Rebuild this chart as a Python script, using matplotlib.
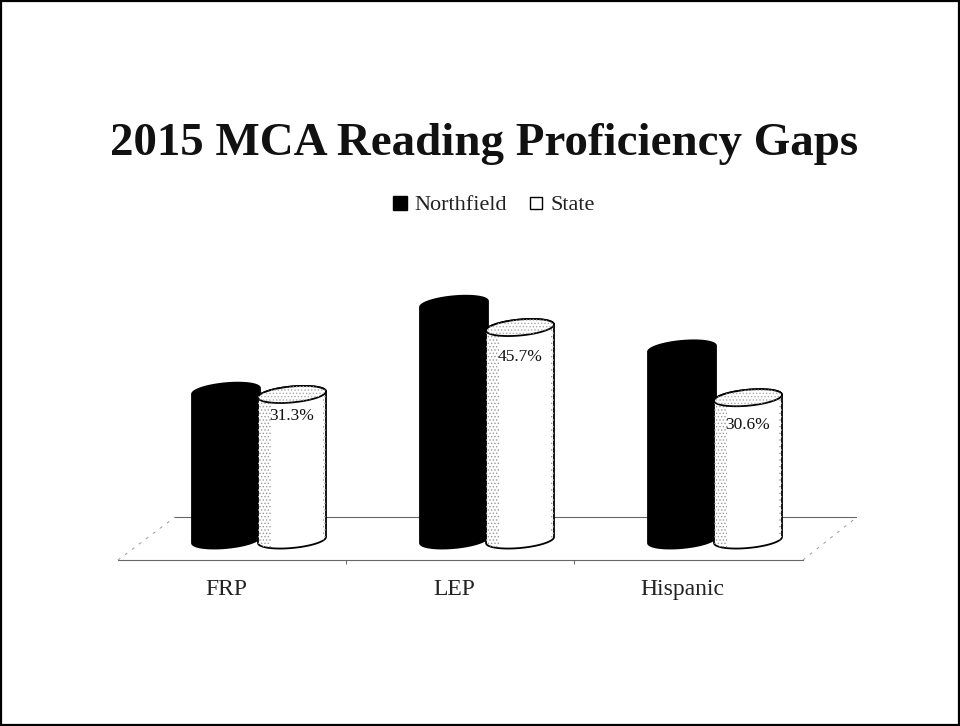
import numpy as np
import matplotlib
matplotlib.use("Agg")
import matplotlib.pyplot as plt
from matplotlib.patches import Polygon, Rectangle

title = "2015 MCA Reading Proficiency Gaps"
categories = ["FRP", "LEP", "Hispanic"]
state = [31.3, 45.7, 30.6]
northfield = [32.0, 50.7, 41.1]  # no labels in the original
state_labels = ["31.3%", "45.7%", "30.6%"]
label_drop = [22, 30, 27]

W, H = 960, 726
PX_X = 228.0   # pixels per category
PX_Y = 4.65    # pixels per percent
AX_L, AX_R, AX_B, AX_T = 118, 857, 560, 100
ZERO_X, ZERO_Y = 226, 540
OFFSET = 66 / PX_X
A = 34 / PX_X   # half width of a cylinder
B = 8 / PX_Y    # half height of the ellipse
TILT = 3 / PX_Y

plt.rcParams['font.family'] = ['Liberation Serif', 'DejaVu Serif']
plt.rcParams['hatch.linewidth'] = 0.6


def ring(xc, y0, start, stop):
    t = np.linspace(start, stop, 60)
    return np.column_stack([xc + A * np.cos(t),
                            y0 + B * np.sin(t) + TILT * np.cos(t)])


def cylinder(ax, xc, val, face, z):
    pts = np.vstack([ring(xc, 0, np.pi, 2 * np.pi), ring(xc, val, 0, np.pi)])
    body = Polygon(pts, closed=True, fc=face, ec='black', lw=1.3, zorder=z)
    ax.add_patch(body)
    if face == 'black':
        return
    # grainy shading, left side and right edge of the white cylinders
    for x0, w in [(xc - A, 0.055), (xc + A - 0.014, 0.014)]:
        band = Rectangle((x0, -10), w, val + 20, fc='none', ec='#999999',
                         hatch='.....', lw=0, zorder=z + 0.1)
        ax.add_patch(band)
        band.set_clip_path(body)
    top = Polygon(ring(xc, val, 0, 2 * np.pi), closed=True, fc='white',
                  ec='black', lw=1.3, zorder=z + 0.2)
    ax.add_patch(top)
    grain = Polygon(ring(xc, val, 0, 2 * np.pi), closed=True, fc='none',
                    ec='#aaaaaa', hatch='.....', lw=0, zorder=z + 0.3)
    ax.add_patch(grain)


fig = plt.figure(figsize=(W / 100, H / 100), dpi=100, facecolor='white')
ax = fig.add_axes([AX_L / W, 1 - AX_B / H, (AX_R - AX_L) / W, (AX_B - AX_T) / H])
ax.set_xlim((AX_L - ZERO_X) / PX_X, (AX_R - ZERO_X) / PX_X)
ax.set_ylim((ZERO_Y - AX_B) / PX_Y, (ZERO_Y - AX_T) / PX_Y)
ax.patch.set_visible(False)
for s in ax.spines.values():
    s.set_visible(False)
ax.set_yticks([])
x = np.arange(len(categories))
ax.set_xticks(x)
ax.set_xticklabels(categories, fontsize=17, color='#222222')
ax.tick_params(axis='x', length=0, pad=14)
ax.set_xticks([0.526, 1.526], minor=True)
ax.tick_params(axis='x', which='minor', length=3, width=0.7, color='#666666')

# floor of the 3d chart
y_front, y_back = ax.get_ylim()[0], 23 / PX_Y
x_fl, x_fr = ax.get_xlim()[0], (803 - ZERO_X) / PX_X
x_bl, x_br = (175 - ZERO_X) / PX_X, ax.get_xlim()[1]
ax.plot([x_fl, x_fr], [y_front, y_front], color='#666666', lw=0.8, zorder=1, clip_on=False)
ax.plot([x_bl, x_br], [y_back, y_back], color='#666666', lw=0.8, zorder=1)
ax.plot([x_fl, x_bl], [y_front, y_back], color='#999999', lw=0.7, ls=(0, (3, 6)), zorder=1, clip_on=False)
ax.plot([x_fr, x_br], [y_front, y_back], color='#999999', lw=0.7, ls=(0, (3, 6)), zorder=1, clip_on=False)

for i in x:
    cylinder(ax, i, northfield[i], 'black', 3)
for i in x:
    cylinder(ax, i + OFFSET, state[i], 'white', 4)
    ax.text(i + OFFSET, state[i] - label_drop[i] / PX_Y, state_labels[i], ha='center', va='center',
            fontsize=12.5, color='#111111', zorder=6)

fig.text(484 / W, 1 - 144 / H, title, ha='center', va='center',
         fontsize=33.8, fontweight='bold', color='#111111')

h1 = plt.Line2D([], [], marker='s', ms=10, mfc='black', mec='black', ls='none')
h2 = plt.Line2D([], [], marker='s', ms=9, mfc='white', mec='black', mew=1.0, ls='none')
fig.legend([h1, h2], ["Northfield", "State"], loc='center', bbox_to_anchor=(491 / W, 1 - 205 / H),
           ncol=2, frameon=False, fontsize=16, handletextpad=0.05, columnspacing=0.7,
           handlelength=1.2, labelcolor='#222222')

fig.add_artist(Rectangle((0.001, 0.001), 0.998, 0.998, transform=fig.transFigure,
                         fc='none', ec='black', lw=1.6))

plt.savefig("out.png", dpi=100)
